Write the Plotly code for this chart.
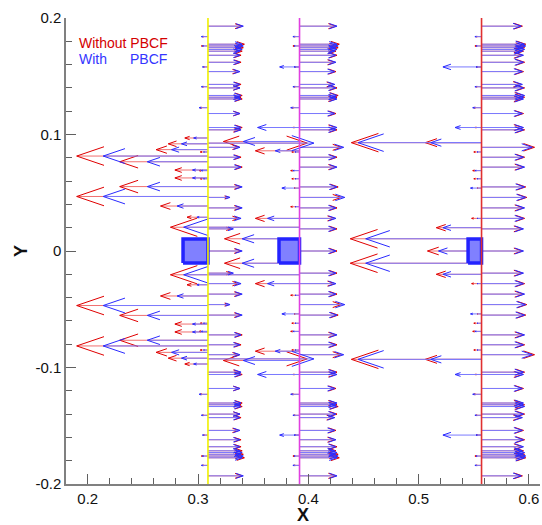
import numpy as np
import plotly.graph_objects as go

# ---------------- data ----------------
X_RANGE = [0.1803, 0.6100]
Y_RANGE = [-0.2, 0.2]

# vector columns (tail x) and the vertical marker line colours
station_x = [0.309, 0.392, 0.557]
station_color = ["#f0f000", "#e040e0", "#e03030"]
# hub blocks (left edge x, right edge = station x), half height
hub_x0 = [0.2864, 0.3734, 0.5448]
hub_half = 0.0102

# right-going rows repeated at every column (upper half, mirrored below)
row_y = [0.193, 0.1775, 0.1760, 0.1745, 0.1730, 0.1715, 0.168, 0.162, 0.154,
         0.143, 0.140, 0.1335, 0.1320, 0.1305, 0.118, 0.106, 0.104, 0.089,
         0.0805, 0.072, 0.055, 0.046, 0.037, 0.028, 0.019]
row_u_with = [
    [0.032, 0.031, 0.032, 0.030, 0.031, 0.029, 0.029, 0.029, 0.029, 0.029, 0.029,
     0.030, 0.029, 0.030, 0.029, 0.030, 0.030, 0.029, 0.029, 0.030, 0.031, 0.020,
     0.031, 0.030, 0.023],
    [0.034, 0.034, 0.035, 0.033, 0.034, 0.032, 0.033, 0.033, 0.032, 0.032, 0.033,
     0.034, 0.033, 0.034, 0.032, 0.034, 0.033, 0.040, 0.033, 0.034, 0.034, 0.041,
     0.033, 0.033, 0.033],
    [0.036, 0.039, 0.040, 0.038, 0.039, 0.037, 0.038, 0.038, 0.037, 0.037, 0.038,
     0.039, 0.038, 0.038, 0.037, 0.038, 0.038, 0.046, 0.038, 0.039, 0.039, 0.040,
     0.039, 0.038, 0.038],
]
row_u_without = [
    [0.031, 0.033, 0.031, 0.032, 0.030, 0.031, 0.030, 0.030, 0.028, 0.030, 0.029,
     0.031, 0.030, 0.031, 0.029, 0.031, 0.029, 0.028, 0.030, 0.031, 0.030, 0.019,
     0.030, 0.028, 0.021],
    [0.033, 0.036, 0.034, 0.035, 0.033, 0.033, 0.034, 0.032, 0.033, 0.031, 0.034,
     0.035, 0.034, 0.033, 0.033, 0.033, 0.034, 0.038, 0.034, 0.033, 0.035, 0.038,
     0.034, 0.032, 0.034],
    [0.037, 0.040, 0.039, 0.039, 0.038, 0.038, 0.037, 0.039, 0.038, 0.036, 0.039,
     0.038, 0.039, 0.037, 0.038, 0.037, 0.039, 0.048, 0.039, 0.038, 0.040, 0.041,
     0.038, 0.039, 0.037],
]
# the row on the axis (y = 0), one value per column
center_u_with = [0.031, 0.033, 0.038]
center_u_without = [0.030, 0.034, 0.037]

# tiny back-flow vectors at every column (upper half, mirrored)
tick_y = [0.184, 0.176, 0.158, 0.141, 0.123, 0.085, 0.069, 0.062]
tick_u_with = [-0.006, -0.005, -0.005, -0.006, -0.008, -0.004, -0.006, -0.004]
tick_u_without = [-0.005, -0.006, -0.004, -0.005, -0.007, -0.007, -0.008, -0.007]

# reversed-flow vectors: column index, y, u without PBCF, u with PBCF (mirrored)
left_col = [0, 0, 0, 0, 0, 0, 0, 0, 0, 0, 0,
            1, 1, 1, 1, 1, 1, 1, 1, 1,
            2, 2, 2, 2, 2, 2, 2, 2]
left_y = [0.097, 0.092, 0.087, 0.0815, 0.0766, 0.0695, 0.0627, 0.0553, 0.0468, 0.0386, 0.029,
          0.158, 0.106, 0.094, 0.086, 0.054, 0.038, 0.028, 0.0204, 0.0105,
          0.158, 0.106, 0.093, 0.093, 0.054, 0.028, 0.020, 0.0105]
left_u_without = [-0.021, -0.036, -0.047, -0.119, -0.080, -0.030, -0.030, -0.080, -0.119, -0.043, -0.019,
                  -0.004, -0.006, -0.069, -0.040, -0.005, -0.008, -0.040, -0.117, -0.068,
                  -0.005, -0.006, -0.118, -0.051, -0.004, -0.009, -0.041, -0.119]
left_u_with = [-0.013, -0.024, -0.033, -0.095, -0.055, -0.014, -0.014, -0.055, -0.095, -0.028, -0.010,
               -0.018, -0.038, -0.051, -0.022, -0.016, -0.004, -0.029, -0.105, -0.052,
               -0.035, -0.024, -0.112, -0.046, -0.010, -0.004, -0.035, -0.105]
# reversed vector on the axis at the last column
center_left_u_without = -0.049
center_left_u_with = -0.039
# long forward vector from the first column (mirrored)
long_y = 0.0926
long_u_with = 0.096
long_u_without = 0.090

# ---------------- geometry helpers ----------------
PLOT_W, PLOT_H = 474, 471
PX_X = PLOT_W / (X_RANGE[1] - X_RANGE[0])
PX_Y = PLOT_H / (Y_RANGE[1] - Y_RANGE[0])
HEAD_FRAC = 0.22
THETA = np.deg2rad(19)


def collect(which):
    xs, ys, us = [], [], []
    for c, sx in enumerate(station_x):
        urow = row_u_with[c] if which == "with" else row_u_without[c]
        for y, u in zip(row_y, urow):
            for sgn in (1, -1):
                xs.append(sx); ys.append(sgn * y); us.append(u)
        xs.append(sx); ys.append(0.0)
        us.append(center_u_with[c] if which == "with" else center_u_without[c])
        tu = tick_u_with if which == "with" else tick_u_without
        for y, u in zip(tick_y, tu):
            for sgn in (1, -1):
                xs.append(sx); ys.append(sgn * y); us.append(u)
    lu = left_u_with if which == "with" else left_u_without
    for c, y, u in zip(left_col, left_y, lu):
        for sgn in (1, -1):
            xs.append(station_x[c]); ys.append(sgn * y); us.append(u)
    xs.append(station_x[2]); ys.append(0.0)
    us.append(center_left_u_with if which == "with" else center_left_u_without)
    for sgn in (1, -1):
        xs.append(station_x[0]); ys.append(sgn * long_y)
        us.append(long_u_with if which == "with" else long_u_without)
    return xs, ys, us


def arrow_paths(xs, ys, us):
    sx, sy, hx, hy = [], [], [], []
    for x0, y0, u in zip(xs, ys, us):
        xt = x0 + u
        sx += [x0, xt, None]; sy += [y0, y0, None]
        h = HEAD_FRAC * abs(u) * PX_X
        d = np.sign(u)
        ex = xt - d * h * np.cos(THETA) / PX_X
        dy = h * np.sin(THETA) / PX_Y
        hx += [ex, xt, ex, None]; hy += [y0 + dy, y0, y0 - dy, None]
    return sx, sy, hx, hy


fig = go.Figure()

styles = {
    "without": ("#f07070", "#e00000"),
    "with": ("#7a7aff", "#2a2aff"),
}
for which in ("without", "with"):
    xs, ys, us = collect(which)
    sx, sy, hx, hy = arrow_paths(xs, ys, us)
    shaft_c, head_c = styles[which]
    fig.add_trace(go.Scatter(x=sx, y=sy, mode="lines",
                             line=dict(color=shaft_c, width=1), hoverinfo="skip"))
    fig.add_trace(go.Scatter(x=hx, y=hy, mode="lines",
                             line=dict(color=head_c, width=1), hoverinfo="skip"))

# hub blocks
for x0, x1 in zip(hub_x0, station_x):
    fig.add_trace(go.Scatter(
        x=[x0, x1, x1, x0, x0], y=[-hub_half, -hub_half, hub_half, hub_half, -hub_half],
        mode="lines", fill="toself", fillcolor="#8080ff",
        line=dict(color="#2323ff", width=3.5), hoverinfo="skip"))

# vertical column lines
for sx_, col in zip(station_x, station_color):
    fig.add_trace(go.Scatter(x=[sx_, sx_], y=Y_RANGE, mode="lines",
                             line=dict(color=col, width=1.6), hoverinfo="skip"))

tick_font = dict(family="Arial, Liberation Sans, sans-serif", size=15, color="#111")
title_font = dict(family="Arial, Liberation Sans, sans-serif", size=18, color="#111")
fig.update_layout(
    width=542, height=525,
    margin=dict(l=66, r=2, t=18, b=36),
    plot_bgcolor="white", paper_bgcolor="white",
    showlegend=False,
    xaxis=dict(range=X_RANGE, showgrid=False, zeroline=False,
               showline=True, linecolor="#808080", linewidth=1.5,
               ticks="inside", ticklen=10, tickcolor="#606060", tickwidth=1,
               tickvals=[0.2, 0.3, 0.4, 0.5, 0.6],
               ticktext=["0.2", "0.3", "0.4", "0.5", "0.6"],
               tickfont=tick_font,
               minor=dict(ticks="inside", ticklen=6, dtick=0.02, tick0=0,
                          tickcolor="#606060", tickwidth=1),
               title=dict(text="<b>X</b>", standoff=4, font=title_font)),
    yaxis=dict(range=Y_RANGE, showgrid=False, zeroline=False,
               showline=True, linecolor="#808080", linewidth=1.5,
               ticks="inside", ticklen=10, tickcolor="#606060", tickwidth=1,
               tickvals=[-0.2, -0.1, 0, 0.1, 0.2],
               ticktext=["-0.2", "-0.1", "0", "0.1", "0.2"],
               tickfont=tick_font,
               minor=dict(ticks="inside", ticklen=6, dtick=0.02, tick0=0,
                          tickcolor="#606060", tickwidth=1),
               title=dict(text="<b>Y</b>", standoff=3, font=title_font)),
)

leg_font = "Arial, Liberation Sans, sans-serif"
fig.add_annotation(x=0.023, y=0.947, xref="paper", yref="paper", xanchor="left", yanchor="middle",
                   text="Without PBCF", showarrow=False,
                   font=dict(family=leg_font, size=14, color="#d40000"))
fig.add_annotation(x=0.023, y=0.911, xref="paper", yref="paper", xanchor="left", yanchor="middle",
                   text="With", showarrow=False,
                   font=dict(family=leg_font, size=14, color="#3535ff"))
fig.add_annotation(x=0.131, y=0.911, xref="paper", yref="paper", xanchor="left", yanchor="middle",
                   text="PBCF", showarrow=False,
                   font=dict(family=leg_font, size=14, color="#3535ff"))

fig.write_html("out.html")
